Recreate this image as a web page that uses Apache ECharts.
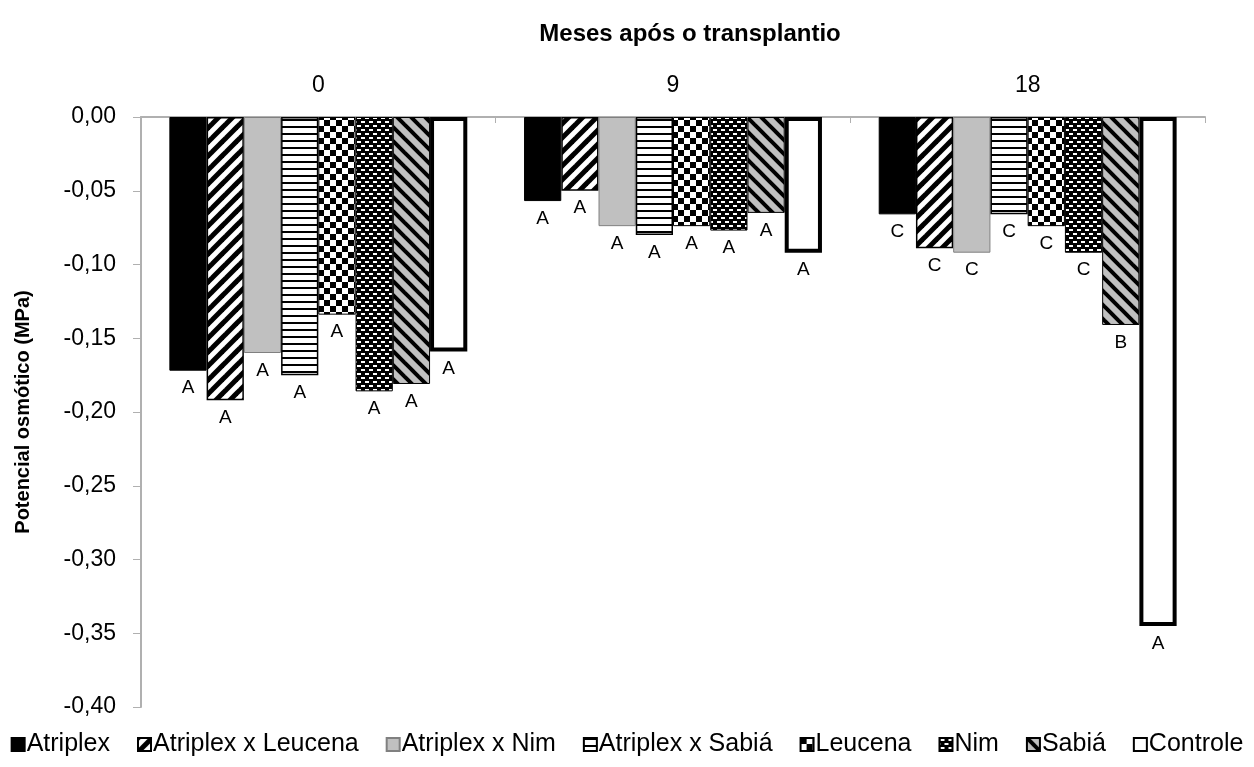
<!DOCTYPE html>
<html>
<head>
<meta charset="utf-8">
<script src="https://cdn.jsdelivr.net/npm/echarts@6/dist/echarts.min.js"></script>
<style>
html, body { margin: 0; padding: 0; background: #fff; }
#chartmain { width: 1254px; height: 767px; }
</style>
</head>
<body>
<div id="chartmain"></div>
<script>
// meses após o transplantio
var meses = ['0', '9', '18'];
var tratamentos = ['Atriplex', 'Atriplex x Leucena', 'Atriplex x Nim', 'Atriplex x Sabiá', 'Leucena', 'Nim', 'Sabiá', 'Controle'];

// potencial osmótico (MPa) por tratamento, nos meses 0, 9 e 18
var atriplex = [-0.172, -0.057, -0.066];
var atriplexLeucena = [-0.192, -0.050, -0.089];
var atriplexNim = [-0.160, -0.074, -0.092];
var atriplexSabia = [-0.175, -0.080, -0.066];
var leucena = [-0.134, -0.074, -0.074];
var nim = [-0.186, -0.077, -0.092];
var sabia = [-0.181, -0.065, -0.141];
var controle = [-0.159, -0.092, -0.345];

// letras (teste de médias) por mês, na ordem dos tratamentos
var letrasMes0 = ['A', 'A', 'A', 'A', 'A', 'A', 'A', 'A'];
var letrasMes9 = ['A', 'A', 'A', 'A', 'A', 'A', 'A', 'A'];
var letrasMes18 = ['C', 'C', 'C', 'C', 'C', 'C', 'B', 'A'];

var valores = [atriplex, atriplexLeucena, atriplexNim, atriplexSabia, leucena, nim, sabia, controle];
var letras = [letrasMes0, letrasMes9, letrasMes18];

var fonte = 'Liberation Sans, Arial, Helvetica, sans-serif';

function tela(w, h, desenho) {
	var c = document.createElement('canvas');
	c.width = w;
	c.height = h;
	desenho(c.getContext('2d'), w, h);
	return { image: c, repeat: 'repeat' };
}

function listras(fundo, cor, largura, sentido) {
	var s = 14;
	return tela(s, s, function(ctx) {
		ctx.fillStyle = fundo;
		ctx.fillRect(0, 0, s, s);
		ctx.strokeStyle = cor;
		ctx.lineWidth = largura;
		for (var k = -s; k <= s; k += s) {
			ctx.beginPath();
			if (sentido == '/') {
				ctx.moveTo(k - 2, s + 2);
				ctx.lineTo(k + s + 2, -2);
			} else {
				ctx.moveTo(k - 2, -2);
				ctx.lineTo(k + s + 2, s + 2);
			}
			ctx.stroke();
		}
	});
}

var padroes = [
	'#000000',
	listras('#ffffff', '#000000', 5, '/'),
	'#c0c0c0',
	tela(4, 7, function(ctx, w, h) {
		ctx.fillStyle = '#ffffff';
		ctx.fillRect(0, 0, w, h);
		ctx.fillStyle = '#000000';
		ctx.fillRect(0, 0, w, 2);
	}),
	tela(12, 12, function(ctx) {
		ctx.fillStyle = '#ffffff';
		ctx.fillRect(0, 0, 12, 12);
		ctx.fillStyle = '#000000';
		ctx.fillRect(0, 0, 6, 6);
		ctx.fillRect(6, 6, 6, 6);
	}),
	tela(8, 8, function(ctx) {
		ctx.fillStyle = '#000000';
		ctx.fillRect(0, 0, 8, 8);
		ctx.fillStyle = '#ffffff';
		ctx.fillRect(1, 1, 4, 2);
		ctx.fillRect(5, 5, 3, 2);
		ctx.fillRect(0, 5, 1, 2);
	}),
	listras('#c0c0c0', '#000000', 4, '\\'),
	'#ffffff'
];
var bordas = ['#000000', '#000000', '#808080', '#000000', '#000000', '#000000', '#000000', '#000000'];
var espessuras = [1, 1.5, 1, 1.5, 1, 1, 1, 4];

var series = [];
for (var i = 0; i < tratamentos.length; i++) {
	series.push({
		name: tratamentos[i],
		type: 'bar',
		data: valores[i],
		barGap: '0%',
		barCategoryGap: '16%',
		itemStyle: {
			color: padroes[i],
			borderColor: bordas[i],
			borderWidth: espessuras[i]
		},
		label: {
			show: true,
			position: 'bottom',
			distance: 8,
			color: '#000',
			fontFamily: fonte,
			fontSize: 19,
			formatter: function(p) {
				return letras[p.dataIndex][p.seriesIndex];
			}
		}
	});
}

var option = {
	animation: false,
	backgroundColor: '#ffffff',
	title: {
		text: 'Meses após o transplantio',
		left: 685,
		top: 17,
		textAlign: 'center',
		textStyle: { fontFamily: fonte, fontSize: 24, fontWeight: 'bold', color: '#000' }
	},
	legend: {
		data: tratamentos,
		bottom: 5,
		left: 'center',
		icon: 'rect',
		itemWidth: 13,
		itemHeight: 13,
		itemGap: 27,
		textStyle: { fontFamily: fonte, fontSize: 25, color: '#000', padding: [0, 0, 0, -3] }
	},
	grid: { left: 141, right: 49, top: 117, bottom: 60, containLabel: false },
	xAxis: {
		type: 'category',
		position: 'top',
		data: meses,
		axisLine: { lineStyle: { color: '#b0b0b0', width: 2 } },
		axisTick: { show: true, inside: true, length: 6, lineStyle: { color: '#b0b0b0' } },
		axisLabel: { margin: 20, fontFamily: fonte, fontSize: 23, color: '#000' }
	},
	yAxis: {
		type: 'value',
		min: -0.4,
		max: 0,
		interval: 0.05,
		name: 'Potencial osmótico (MPa)',
		nameLocation: 'middle',
		nameGap: 108,
		nameTextStyle: { fontFamily: fonte, fontSize: 20, fontWeight: 'bold', color: '#000' },
		splitLine: { show: false },
		axisLine: { show: true, lineStyle: { color: '#b0b0b0', width: 2 } },
		axisTick: { show: true, length: 8, lineStyle: { color: '#b0b0b0' } },
		axisLabel: {
			margin: 25,
			fontFamily: fonte,
			fontSize: 23,
			color: '#000',
			formatter: function(v) {
				if (Math.abs(v) < 1e-9) v = 0;
				return v.toFixed(2).replace('.', ',');
			}
		}
	},
	series: series
};

var myChart = echarts.init(document.getElementById('chartmain'));
myChart.setOption(option);
</script>
</body>
</html>
